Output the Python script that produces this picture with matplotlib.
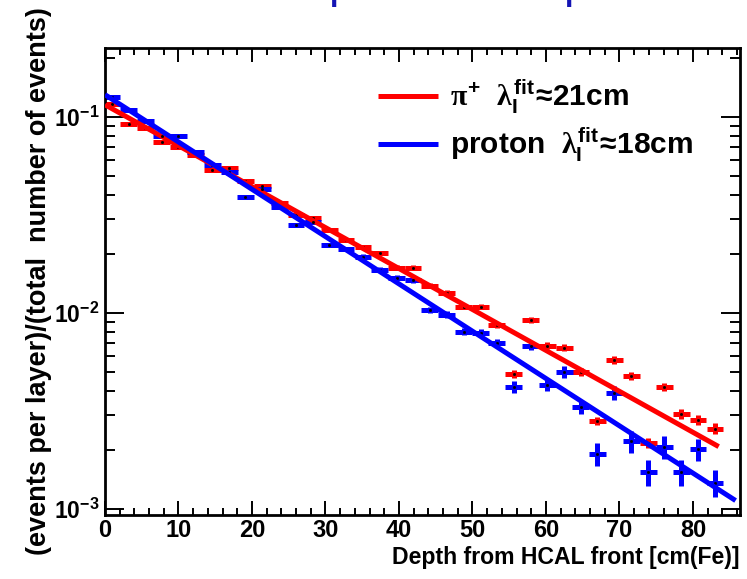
import numpy as np
import matplotlib
matplotlib.use('Agg')
import matplotlib.pyplot as plt
from matplotlib.ticker import FixedLocator, FixedFormatter, MultipleLocator, NullFormatter

plt.rcParams['font.family'] = ['Liberation Sans', 'DejaVu Sans']
plt.rcParams['font.weight'] = 'bold'
plt.rcParams['mathtext.fontset'] = 'custom'
plt.rcParams['mathtext.rm'] = 'Liberation Sans:bold'
plt.rcParams['mathtext.bf'] = 'Liberation Sans:bold'
plt.rcParams['mathtext.it'] = 'Liberation Serif'
plt.rcParams['mathtext.default'] = 'rm'

# layer centres [cm Fe]
depth = [0.9, 3.2, 5.5, 7.7, 10.0, 12.3, 14.6, 16.9, 19.1, 21.4,
         23.7, 26.0, 28.3, 30.5, 32.8, 35.1, 37.4, 39.7, 41.9, 44.2,
         46.5, 48.8, 51.1, 53.3, 55.6, 57.9, 60.2, 62.5, 64.7, 67.0,
         69.3, 71.6, 73.9, 76.1, 78.4, 80.7, 83.0]
half_width = 1.14

pion = [0.1165, 0.0921, 0.0879, 0.0746, 0.0703, 0.0640, 0.0537, 0.0549, 0.0472, 0.0445,
        0.0364, 0.0316, 0.0305, 0.0265, 0.0236, 0.0217, 0.0202, 0.0170, 0.0170, 0.01373,
        0.01265, 0.01073, 0.01073, 0.00869, 0.00488, 0.00921, 0.00679, 0.00663, 0.00500, 0.00281,
        0.00576, 0.00477, 0.00217, 0.00419, 0.00305, 0.00284, 0.00256]
pion_relerr = [0.01, 0.01, 0.01, 0.01, 0.01, 0.01, 0.01, 0.01, 0.01, 0.015,
               0.015, 0.015, 0.02, 0.02, 0.02, 0.02, 0.02, 0.025, 0.025, 0.03,
               0.03, 0.03, 0.03, 0.035, 0.045, 0.035, 0.04, 0.04, 0.045, 0.05,
               0.045, 0.05, 0.06, 0.05, 0.055, 0.06, 0.065]

proton = [0.1265, 0.1086, 0.0954, 0.0800, 0.0800, 0.0663, 0.0569, 0.0524, 0.0391, 0.0429,
          0.0347, 0.0281, 0.0291, 0.0222, 0.0212, 0.0193, 0.01657, 0.0151, 0.01474, 0.01036,
          0.00977, 0.0080, 0.00791, 0.00703, 0.00419, 0.00679, 0.00429, 0.0050, 0.00331, 0.00191,
          0.0039, 0.00222, 0.00154, 0.00207, 0.00154, 0.00202, 0.00136]
proton_relerr = [0.01, 0.01, 0.01, 0.01, 0.01, 0.01, 0.015, 0.015, 0.02, 0.02,
                 0.02, 0.02, 0.025, 0.025, 0.025, 0.03, 0.03, 0.03, 0.035, 0.035,
                 0.04, 0.04, 0.045, 0.045, 0.07, 0.05, 0.07, 0.07, 0.08, 0.13,
                 0.08, 0.13, 0.15, 0.13, 0.15, 0.13, 0.16]

# exponential fits: norm * exp(-x / lambda)
pion_fit = (0.115, 20.8, 83.5)     # norm, lambda, end of range
proton_fit = (0.1295, 18.0, 85.8)

pion_label = r'$\mathit{\pi}^{+}\ \ \mathit{\lambda}_{I}^{fit}\!\approx\!21cm$'
proton_label = r'$proton\ \ \mathit{\lambda}_{I}^{fit}\!\approx\!18cm$'

fig = plt.figure(figsize=(7.47, 5.79), dpi=100)
ax = fig.add_axes([105 / 747, 64 / 579, 635 / 747, 467 / 579])

def draw(vals, relerr, fit, color, label):
    v = np.array(vals)
    ax.errorbar(depth, v, xerr=half_width, yerr=v * np.array(relerr), fmt='none',
                ecolor=color, elinewidth=3.6, capsize=0, zorder=2)
    ax.plot(depth, v, ls='none', marker='s', ms=1.0, color='k', zorder=3)
    xf = np.linspace(0, fit[2], 300)
    line, = ax.plot(xf, fit[0] * np.exp(-xf / fit[1]), color=color, lw=3.6,
                    solid_capstyle='butt', label=label, zorder=3)
    return line

l1 = draw(pion, pion_relerr, pion_fit, '#ff0000', pion_label)
l2 = draw(proton, proton_relerr, proton_fit, '#0000ff', proton_label)

ax.set_yscale('log')
ax.set_xlim(0, 86.4)
ax.set_ylim(0.00093, 0.224)

ax.xaxis.set_major_locator(MultipleLocator(10))
ax.xaxis.set_minor_locator(MultipleLocator(2))
ax.yaxis.set_major_locator(FixedLocator([1e-3, 1e-2, 1e-1]))
ax.yaxis.set_major_formatter(FixedFormatter([r'$10^{-3}$', r'$10^{-2}$', r'$10^{-1}$']))
minors = [m * 10.0 ** e for e in (-4, -3, -2, -1) for m in range(2, 10)]
ax.yaxis.set_minor_locator(FixedLocator(minors))
ax.yaxis.set_minor_formatter(NullFormatter())

ax.tick_params(axis='both', which='both', direction='in', top=True, right=True, width=1.4)
ax.tick_params(axis='x', which='major', length=10, labelsize=17, pad=3)
ax.tick_params(axis='x', which='minor', length=5)
ax.tick_params(axis='y', which='major', length=13.5, labelsize=16.5, pad=4)
ax.tick_params(axis='y', which='minor', length=7)
for s in ax.spines.values():
    s.set_linewidth(2)

ax.set_xlabel('Depth from HCAL front [cm(Fe)]', fontsize=16.6, fontweight='bold', loc='right')
ax.xaxis.set_label_coords(1.0, -0.066)
ax.set_ylabel('(events per layer)/(total  number of events)', fontsize=19.5,
              fontweight='bold', loc='bottom')
ax.yaxis.set_label_coords(-0.084, -0.0857)

ax.legend(handles=[l1, l2], loc='upper left', bbox_to_anchor=(0.43, 0.936), frameon=False,
          fontsize=21.5, handlelength=2.0, handletextpad=0.4, labelspacing=0.3,
          borderaxespad=0, borderpad=0)

# cut-off title at the top edge
for xp in (330 / 747, 565 / 747):
    fig.text(xp, 1.0, 'p', color='#1414b4', fontsize=22, fontweight='bold', va='baseline')

fig.savefig('out.png', dpi=100)
